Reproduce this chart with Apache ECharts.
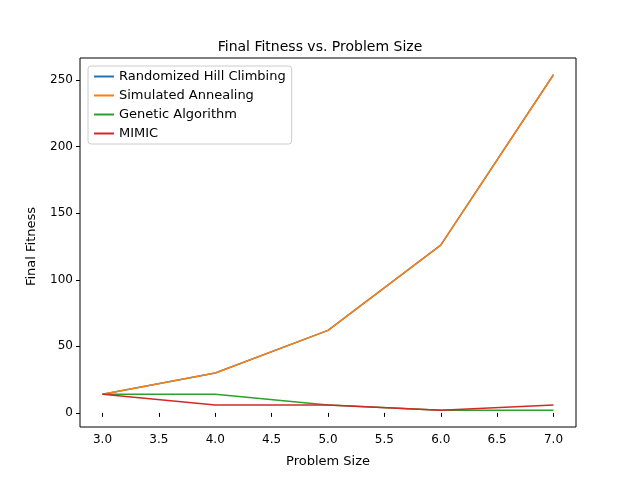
<!DOCTYPE html>
<html><head><meta charset="utf-8">
<script src="https://cdn.jsdelivr.net/npm/echarts@6/dist/echarts.min.js"></script>
<style>html,body{margin:0;padding:0;background:#fff}#c{width:640px;height:480px}</style>
</head><body><div id="c"></div>
<script>
const sizes = [3, 4, 5, 6, 7];
const rhc = [14, 30, 62, 126, 254];
const sa = [14, 30, 62, 126, 254];
const ga = [14, 14, 6, 2, 2];
const mimic = [14, 6, 6, 2, 6];
const names = ['Randomized Hill Climbing', 'Simulated Annealing', 'Genetic Algorithm', 'MIMIC'];
const colors = ['#1f77b4', '#ff7f0e', '#2ca02c', '#d62728'];
const datas = [rhc, sa, ga, mimic];
const font = 'DejaVu Sans';
const lbl = {color: '#000', fontSize: 12, fontFamily: font, margin: 7};
const tick = {show: true, length: 4, lineStyle: {color: '#000'}};
const chart = echarts.init(document.getElementById('c'));
chart.setOption({
  animation: false,
  textStyle: {fontFamily: font},
  title: {text: 'Final Fitness vs. Problem Size', left: 'center', top: 35,
    textStyle: {fontFamily: font, fontSize: 14, fontWeight: 'normal', color: '#000'}},
  legend: {show: true, left: 88, top: 66, orient: 'vertical', itemGap: 6, itemWidth: 20, itemHeight: 2,
    backgroundColor: '#fff', borderColor: '#ccc', borderWidth: 1, borderRadius: 3, padding: [4, 6, 4, 6],
    textStyle: {fontFamily: font, fontSize: 13, color: '#000'},
    data: names.map(n => ({name: n, icon: 'rect'}))},
  grid: [
    {left: 80, right: 64, top: 58, bottom: 53, show: true, borderColor: '#000', borderWidth: 1, backgroundColor: 'transparent'},
    {left: 102.5, right: 86.5, top: 80.1, bottom: 67.1, show: false}
  ],
  xAxis: [
    {type: 'value', gridIndex: 0, min: 2.8, max: 7.2, show: false},
    {type: 'value', gridIndex: 1, min: 3, max: 7, interval: 0.5, offset: 14.1,
      name: 'Problem Size', nameLocation: 'middle', nameGap: 28,
      nameTextStyle: {fontFamily: font, fontSize: 13, color: '#000'},
      axisLine: {show: false}, axisTick: tick, splitLine: {show: false},
      axisLabel: Object.assign({formatter: v => v.toFixed(1)}, lbl)}
  ],
  yAxis: [
    {type: 'value', gridIndex: 0, min: -10.6, max: 266.6, show: false},
    {type: 'value', gridIndex: 1, min: 0, max: 250, interval: 50, offset: 22.5,
      name: 'Final Fitness', nameLocation: 'middle', nameGap: 42,
      nameTextStyle: {fontFamily: font, fontSize: 13, color: '#000'},
      axisLine: {show: false}, axisTick: tick, splitLine: {show: false},
      axisLabel: Object.assign({formatter: v => String(Math.round(v))}, lbl)}
  ],
  series: names.map((n, i) => ({
    name: n, type: 'line', xAxisIndex: 0, yAxisIndex: 0, data: sizes.map((s, j) => [s, datas[i][j]]),
    showSymbol: false, symbol: 'none', color: colors[i], lineStyle: {width: 1.5, color: colors[i]}, z: 2 + i
  }))
});
</script></body></html>
